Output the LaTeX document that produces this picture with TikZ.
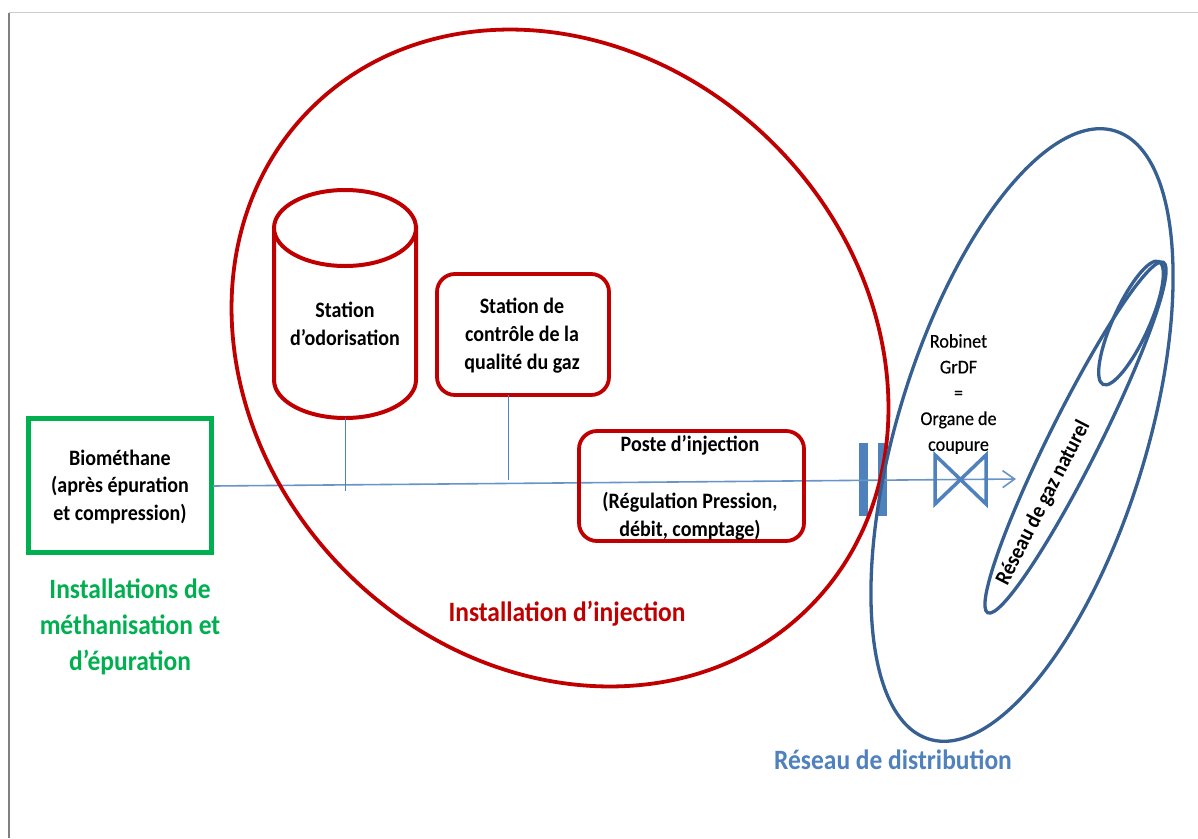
\documentclass[tikz,border=0pt]{standalone}
\usepackage{fontspec}
\setmainfont{Carlito}
\newfontfamily\tallfont[FakeStretch=0.91,BoldFont={Carlito Bold}]{Carlito}
\newfontfamily\midfont[FakeStretch=0.93,FakeBold=0.35]{Carlito}
\usetikzlibrary{shapes.geometric,arrows.meta}
\definecolor{cred}{HTML}{C00000}
\definecolor{cgreen}{HTML}{00B050}
\definecolor{cblue}{HTML}{4F81BD}
\definecolor{cnavy}{HTML}{376092}
\tikzset{
  x=1pt,y=-1pt,
  ell/.style={ellipse,draw,inner sep=0pt,outer sep=0pt},
  redline/.style={draw=cred,line width=3.8pt},
  navyline/.style={draw=cnavy,line width=3.3pt},
  redbox/.style={redline,rectangle,rounded corners=18pt,inner sep=0pt,outer sep=0pt},
  lab/.style={align=center,inner sep=0pt,font=\tallfont\bfseries\fontsize{22}{27.7}\selectfont},
  biglab/.style={align=center,inner sep=0pt,font=\tallfont\bfseries\fontsize{28}{36}\selectfont},
  thinblue/.style={draw=cblue,line width=1pt},
  mainline/.style={draw=cblue!85,line width=1.6pt},
  bar/.style={rectangle,fill=cblue,inner sep=0pt,outer sep=0pt,minimum width=9pt,minimum height=73pt},
}
\begin{document}
\begin{tikzpicture}
\useasboundingbox (0,0) rectangle (1198,838);
\fill[white] (0,0) rectangle (1198,838);
% page frame
\coordinate (fa) at (8.5,838);
\coordinate (fb) at (8.5,12.5);
\coordinate (fc) at (1198,12.5);
\draw[draw=black!20,line width=1pt] (fb) -- (fc);
\draw[draw=black!50,line width=2pt] (fa) -- (fb);

% main flow nodes
\node[rectangle,draw=cgreen,line width=5pt,minimum width=183pt,minimum height=134pt,inner sep=0pt,outer sep=0pt,fill=white] (bio) at (119.5,485) {};
\node[bar] (bara) at (863,479.5) {};
\node[bar] (barb) at (882.5,479.5) {};

\coordinate (flowstart) at (213,486);
\coordinate (flowend) at (1016,479);
\draw[mainline,-{Straight Barb[length=12pt,width=17pt,line width=1.6pt]}] (flowstart) -- (flowend);

\coordinate (joina) at (345,491);
\coordinate (joinb) at (508,480);

% injection ellipse
\node[ell,redline,minimum width=705pt,minimum height=605pt,rotate=-45] (inj) at (560,358) {};

% distribution
\node[ell,navyline,minimum width=636pt,minimum height=249pt,rotate=73] (dist) at (1022,435) {};
\node[ell,navyline,minimum width=392pt,minimum height=50pt,rotate=63.4] (gaz) at (1075.5,437.5) {};
\node[ell,navyline,minimum width=135pt,minimum height=36pt,rotate=65.6] (small) at (1131,323) {};

% cylinder
\node[rectangle,minimum width=142pt,minimum height=228pt,inner sep=0pt,outer sep=0pt] (odor) at (345,304) {};
\draw[draw=cred,line width=4pt,fill=white] (274,228) -- (274,380) .. controls (274,401) and (306,418) .. (345,418) .. controls (384,418) and (416,401) .. (416,380) -- (416,228) -- cycle;
\node[ell,draw=cred,line width=4pt,fill=white,minimum width=142pt,minimum height=76pt] (odortop) at (345,228) {};
\node[lab] (odortxt) at (345,323.5) {Station\\d’odorisation};
\draw[thinblue] (odor.south) -- (joina);

% quality
\node[redbox,minimum width=172pt,minimum height=121pt,fill=white] (qual) at (523,334.5) {};
\node[lab] (qualtxt) at (522,335.5) {Station de\\contrôle de la\\qualité du gaz};
\draw[thinblue] (qual.south -| joinb) -- (joinb);

% poste
\node[redbox,minimum width=225pt,minimum height=110pt] (poste) at (691.5,486) {};
\node[lab,anchor=center] (postea) at (690,445) {Poste d’injection};
\node[lab] (posteb) at (690,516) {(Régulation Pression,\\débit, comptage)};

% valve
\coordinate (v1) at (935,455);
\coordinate (v2) at (935,504);
\coordinate (v3) at (986,455);
\coordinate (v4) at (986,504);
\draw[draw=cblue,line width=3.5pt,line join=miter] (v1) -- (v2) -- (v3) -- (v4) -- cycle;

% texts
\node[lab] (biotxt) at (120,487) {Biométhane\\(après épuration\\et compression)};
\node[biglab,text=cgreen] (meth) at (130,627) {Installations de\\méthanisation et\\d’épuration};
\node[biglab,text=cred] (injtxt) at (567,614) {Installation d’injection};
\node[biglab,text=cblue] (disttxt) at (893,760) {Réseau de distribution};
\node[align=center,inner sep=0pt,font=\midfont\fontsize{19.5}{25.8}\selectfont] (rob) at (958.5,394) {Robinet\\GrDF\\=\\Organe de\\coupure};
\node[lab,font=\tallfont\bfseries\fontsize{22}{27}\selectfont,rotate=62.8] (gaztxt) at (1043.5,503) {Réseau de gaz naturel};
\end{tikzpicture}
\end{document}
